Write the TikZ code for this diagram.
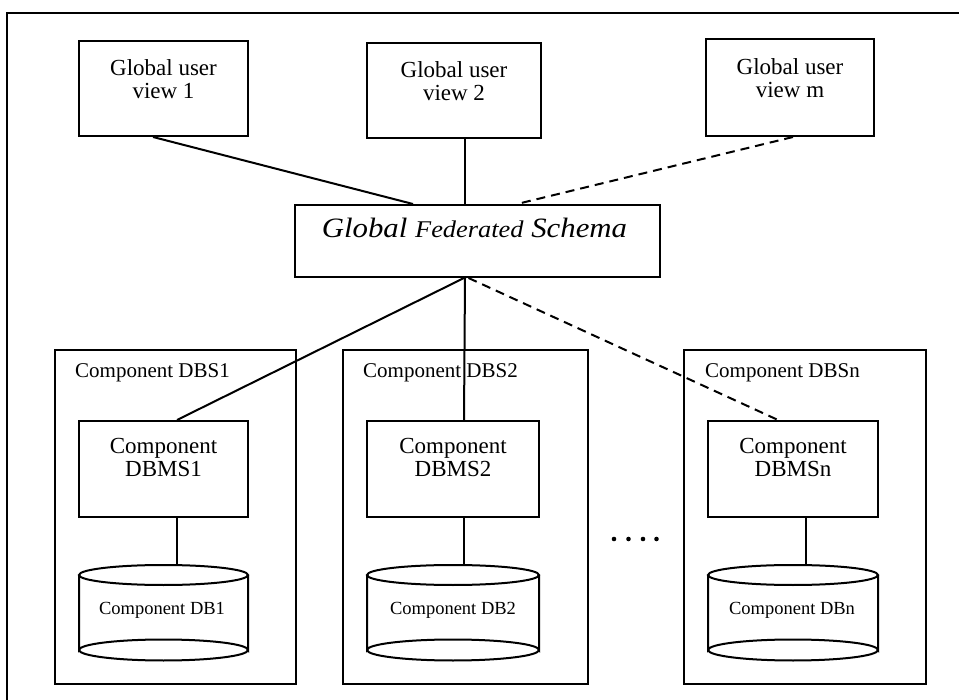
\documentclass[tikz,border=0pt]{standalone}
\usepackage{fontspec}
\setmainfont{Liberation Serif}
\newfontfamily\gfsfont[FakeStretch=1.1]{Liberation Serif}
\begin{document}
\begin{tikzpicture}[x=1pt,y=-1pt,
  box/.style={draw,line width=2pt,inner sep=0pt},
  conn/.style={line width=2pt},
  dconn/.style={line width=2pt,dash pattern=on 9pt off 6pt},
  lbl/.style={inner sep=0pt,align=center,font=\fontsize{23}{23}\selectfont},
  dblbl/.style={inner sep=0pt,font=\fontsize{18.5}{20}\selectfont},
  dbslbl/.style={inner sep=0pt,anchor=west,font=\fontsize{21}{23}\selectfont},
  cyl/.style={line width=2pt,fill=white}
]
\useasboundingbox (0,0) rectangle (959,700);
% outer frame (open at bottom and right)
\draw[line width=2pt] (7,700) -- (7,13) -- (959,13);

% global user views
\node[box,minimum width=169pt,minimum height=95pt] (g1) at (163.5,88.5) {};
\node[lbl] (g1t) at (163.5,79) {Global user\\view 1};
\node[box,minimum width=174pt,minimum height=95pt] (g2) at (454,90.5) {};
\node[lbl] (g2t) at (454,81) {Global user\\view 2};
\node[box,minimum width=168pt,minimum height=97pt] (gm) at (790,87.5) {};
\node[lbl] (gmt) at (790,78) {Global user\\view m};

% global federated schema
\node[box,minimum width=365pt,minimum height=72pt] (gfs) at (477.5,241) {};
\node[inner sep=0pt,anchor=base] (gfst) at (474.5,238)
  {\gfsfont\itshape\fontsize{28}{30}\selectfont Global {\fontsize{24}{26}\selectfont Federated} Schema};

% component DBS boxes
\node[box,minimum width=241pt,minimum height=334pt] (s1) at (175.5,517) {};
\node[box,minimum width=245pt,minimum height=334pt] (s2) at (465.5,517) {};
\node[box,minimum width=242pt,minimum height=334pt] (sn) at (805,517) {};
\node[dbslbl] (s1t) at (75,373) {Component DBS1};
\node[dbslbl] (s2t) at (363,373) {Component DBS2};
\node[dbslbl] (snt) at (705,373) {Component DBSn};

% DBMS boxes
\node[box,fill=white,minimum width=169pt,minimum height=96pt] (m1) at (163.5,469) {};
\node[lbl] (m1t) at (163.5,457.5) {Component\\DBMS1};
\node[box,fill=white,minimum width=172pt,minimum height=96pt] (m2) at (453,469) {};
\node[lbl] (m2t) at (453,457.5) {Component\\DBMS2};
\node[box,fill=white,minimum width=170pt,minimum height=96pt] (mn) at (793,469) {};
\node[lbl] (mnt) at (793,457.5) {Component\\DBMSn};

% cylinders (drawn directly) with named anchors
\foreach \nm/\xl/\xr in {c1/79/248, c2/367/539, cn/708/878}{
  \pgfmathsetmacro{\xc}{(\xl+\xr)/2}
  \pgfmathsetmacro{\rx}{(\xr-\xl)/2}
  \draw[cyl] (\xl,575) -- (\xl,650) arc[start angle=180,end angle=360,x radius=\rx pt,y radius=-10.5pt] -- (\xr,575);
  \draw[cyl] (\xc,575) ellipse[x radius=\rx pt,y radius=10pt];
  \draw[line width=2pt] (\xl,650) arc[start angle=180,end angle=0,x radius=\rx pt,y radius=-10.5pt];
  \coordinate (\nm) at (\xc,565);
}
\node[dblbl] (c1t) at (162,610) {Component DB1};
\node[dblbl] (c2t) at (453,610) {Component DB2};
\node[dblbl] (cnt) at (792,610) {Component DBn};

% dots
\foreach \i/\dx in {1/614,2/628.5,3/643,4/656.5}{
  \fill (\dx,539) circle[radius=2.3pt];
}

% connectors top
\draw[conn] ([xshift=-10.5pt]g1.south) -- ([xshift=-64.5pt]gfs.north);
\draw[conn] ([xshift=11pt]g2.south) -- ([xshift=-12.5pt]gfs.north);
\draw[dconn] ([xshift=3pt]gm.south) -- ([xshift=39.5pt]gfs.north);

% connectors bottom
\draw[conn] ([xshift=-13.5pt]gfs.south) -- ([xshift=13.5pt]m1.north);
\draw[conn] ([xshift=-12.5pt]gfs.south) -- ([xshift=11pt]m2.north);
\draw[dconn] ([xshift=-9pt]gfs.south) -- ([xshift=-15pt]mn.north);

% DBMS to DB
\draw[conn] ([xshift=13.5pt]m1.south) -- ([xshift=13.5pt]m1.south |- c1);
\draw[conn] ([xshift=11pt]m2.south) -- ([xshift=11pt]m2.south |- c2);
\draw[conn] ([xshift=13pt]mn.south) -- ([xshift=13pt]mn.south |- cn);
\end{tikzpicture}
\end{document}
